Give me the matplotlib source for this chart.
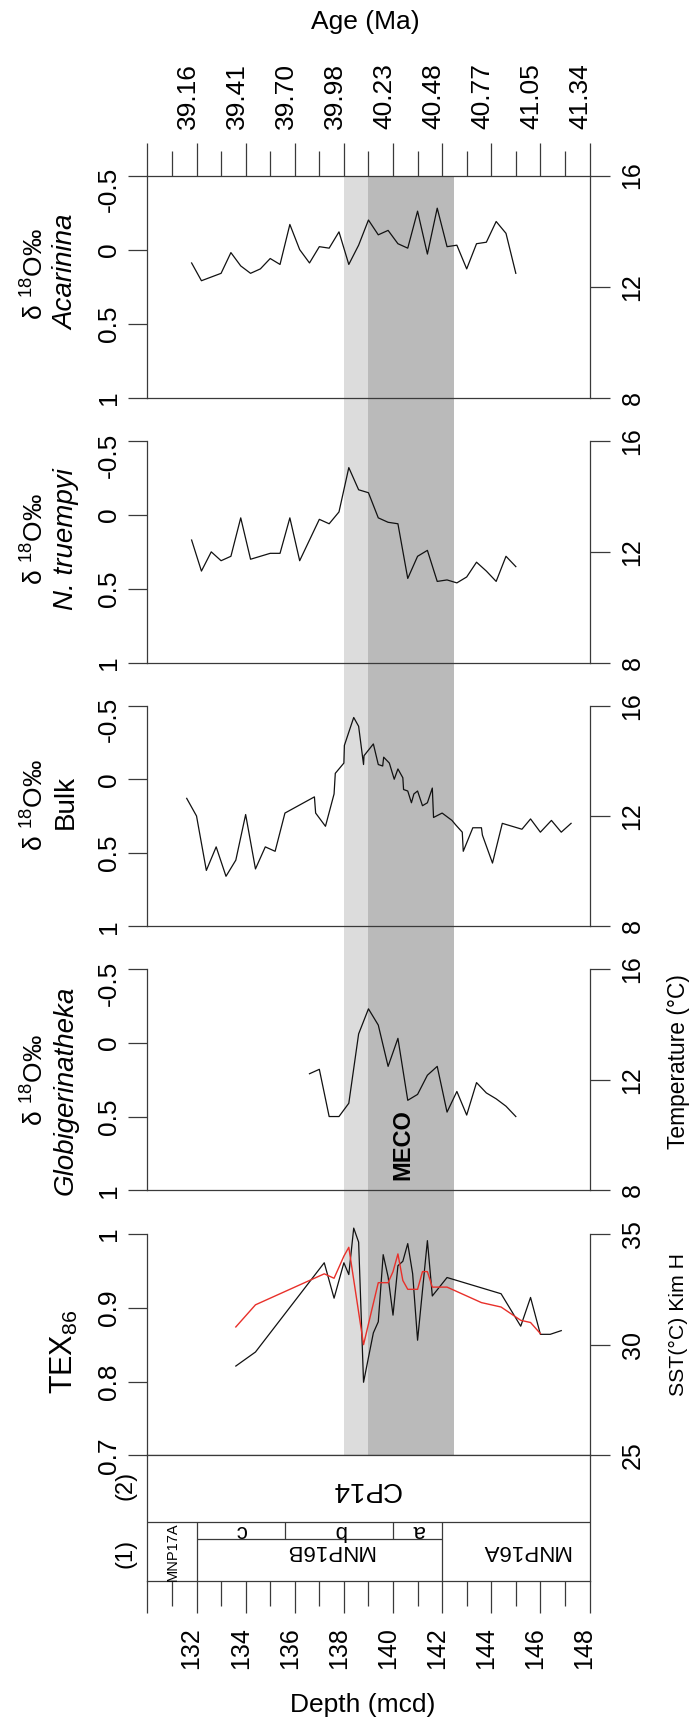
import matplotlib
matplotlib.use("Agg")
import matplotlib.pyplot as plt
import matplotlib.transforms as mtransforms

plt.rcParams['font.family'] = ['Liberation Sans', 'DejaVu Sans']
plt.rcParams['mathtext.fontset'] = 'custom'
plt.rcParams['mathtext.rm'] = 'Liberation Sans'
plt.rcParams['mathtext.it'] = 'Liberation Sans:italic'

# ---- data (depth in mcd) ----
depth_major = [130, 132, 134, 136, 138, 140, 142, 144, 146, 148]
depth_minor = [131, 133, 135, 137, 139, 141, 143, 145, 147]
age_labels = ['', '39.16', '39.41', '39.70', '39.98', '40.23', '40.48', '40.77', '41.05', '41.34']

acar_depth = [131.8, 132.2, 133.0, 133.4, 133.8, 134.2, 134.6, 135.0, 135.4, 135.8, 136.2,
              136.6, 137.0, 137.4, 137.8, 138.2, 138.6, 139.0, 139.4, 139.8, 140.2, 140.6,
              141.0, 141.4, 141.8, 142.2, 142.6, 143.0, 143.4, 143.8, 144.2, 144.6, 145.0]
acar_d18o = [0.09, 0.21, 0.16, 0.02, 0.11, 0.16, 0.13, 0.06, 0.10, -0.17, 0.00,
             0.09, -0.02, -0.01, -0.12, 0.10, -0.03, -0.20, -0.10, -0.13, -0.04, -0.01,
             -0.26, 0.03, -0.28, -0.02, -0.03, 0.13, -0.04, -0.05, -0.19, -0.11, 0.16]

trum_depth = [131.8, 132.2, 132.6, 133.0, 133.4, 133.8, 134.2, 134.6, 135.0, 135.4, 135.8,
              136.2, 136.6, 137.0, 137.4, 137.8, 138.2, 138.6, 139.0, 139.4, 139.8, 140.2,
              140.6, 141.0, 141.4, 141.8, 142.2, 142.6, 143.0, 143.4, 143.8, 144.2, 144.6, 145.0]
trum_d18o = [0.17, 0.38, 0.25, 0.31, 0.28, 0.02, 0.30, 0.28, 0.26, 0.26, 0.02,
             0.31, 0.17, 0.03, 0.06, -0.02, -0.32, -0.17, -0.15, 0.02, 0.05, 0.06,
             0.43, 0.28, 0.24, 0.45, 0.44, 0.46, 0.42, 0.32, 0.38, 0.45, 0.28, 0.35]

bulk_depth = [131.6, 132.0, 132.4, 132.8, 133.2, 133.6, 134.0, 134.4, 134.8, 135.2,
              135.6, 136.8, 136.85, 137.25, 137.6, 137.65, 138.0, 138.02, 138.4, 138.6,
              138.8, 138.82, 139.2, 139.4, 139.58, 139.62, 139.85, 140.05, 140.2, 140.4,
              140.43, 140.6, 140.75, 140.85, 141.0, 141.2, 141.4, 141.6, 141.65, 142.0,
              142.4, 142.55, 142.82, 142.86, 143.25, 143.6, 143.64, 144.05, 144.45, 144.85,
              145.25, 145.6, 146.0, 146.45, 146.85, 147.25]
bulk_d18o = [0.13, 0.25, 0.62, 0.46, 0.66, 0.55, 0.24, 0.61, 0.46, 0.49,
             0.23, 0.12, 0.23, 0.32, 0.10, -0.04, -0.11, -0.23, -0.42, -0.36,
             -0.10, -0.16, -0.24, -0.10, -0.09, -0.15, -0.11, 0.00, -0.07, -0.01,
             0.07, 0.08, 0.16, 0.10, 0.08, 0.18, 0.16, 0.06, 0.26, 0.23,
             0.28, 0.31, 0.36, 0.49, 0.33, 0.33, 0.38, 0.57, 0.30, 0.32,
             0.34, 0.27, 0.36, 0.28, 0.36, 0.30]

glob_depth = [136.6, 137.0, 137.4, 137.8, 138.2, 138.6, 139.0, 139.4, 139.8, 140.2, 140.6,
              141.0, 141.4, 141.8, 142.2, 142.6, 143.0, 143.4, 143.8, 144.2, 144.6, 145.0]
glob_d18o = [0.21, 0.18, 0.50, 0.50, 0.41, -0.06, -0.23, -0.12, 0.16, -0.03, 0.39,
             0.35, 0.22, 0.16, 0.47, 0.33, 0.49, 0.27, 0.34, 0.38, 0.43, 0.50]

tex_depth = [133.6, 134.4, 137.2, 137.6, 138.0, 138.2, 138.4, 138.6, 138.8, 139.2, 139.4,
             139.6, 139.8, 140.0, 140.2, 140.4, 140.6, 140.8, 141.0, 141.4, 141.6, 142.2,
             144.4, 145.2, 145.6, 146.0, 146.4, 146.85]
tex86 = [0.821, 0.840, 0.961, 0.913, 0.961, 0.945, 1.008, 0.989, 0.799, 0.866, 0.881,
         0.972, 0.942, 0.890, 0.957, 0.963, 0.987, 0.946, 0.856, 0.991, 0.916, 0.941,
         0.919, 0.875, 0.914, 0.864, 0.864, 0.869]

sst_depth = [133.6, 134.4, 137.2, 137.6, 138.0, 138.2, 138.8, 139.4, 139.8, 140.0, 140.2,
             140.4, 140.6, 141.0, 141.2, 141.4, 141.6, 142.2, 143.6, 144.4, 145.2, 145.6, 146.0]
sst_kimh = [30.8, 31.8, 33.2, 33.0, 34.0, 34.4, 30.0, 32.8, 32.8, 33.3, 34.1,
            32.9, 32.5, 32.5, 33.3, 33.3, 32.6, 32.6, 31.9, 31.7, 31.1, 31.0, 30.5]

# MECO interval (light = onset, dark = main event)
meco_light = (138.0, 139.0)
meco_dark = (139.0, 142.5)

# biostratigraphy: (name, top, base)
cp_zones = [('CP14', 130, 148)]
mnp_zones = [('MNP17A', 130, 132), ('MNP16B', 132, 142), ('MNP16A', 142, 148)]
mnp16b_sub = [('c', 132, 135.6), ('b', 135.6, 140), ('a', 140, 142)]

# ---- layout (pixels) ----
W, H = 694, 1726
X0, X1 = 147.4, 589.5
AXC = '#3a3a3a'
LIGHT, DARK = '#dcdcdc', '#bababa'

fig = plt.figure(figsize=(W / 100, H / 100), dpi=100)


def px_axes(ytop, ybot):
    return fig.add_axes([X0 / W, 1 - ybot / H, (X1 - X0) / W, (ybot - ytop) / H])


def shift(labels, dx=0, dy=0):
    off = mtransforms.ScaledTranslation(dx / 100, dy / 100, fig.dpi_scale_trans)
    for lab in labels:
        lab.set_transform(lab.get_transform() + off)


def style_spines(ax):
    for s in ax.spines.values():
        s.set_color(AXC)
        s.set_linewidth(0.9)


# MECO shading behind all panels
bg = px_axes(175.6, 1455.3)
bg.set_xlim(130, 148)
bg.axvspan(*meco_light, color=LIGHT, lw=0)
bg.axvspan(*meco_dark, color=DARK, lw=0)
bg.axis('off')

d18o_panels = [
    (acar_depth, acar_d18o, 175.6, 175.6, 397.7),
    (trum_depth, trum_d18o, 397.7, 441.0, 662.7),
    (bulk_depth, bulk_d18o, 662.7, 705.7, 926.3),
    (glob_depth, glob_d18o, 926.3, 969.0, 1190.3),
]

axes = []
for i, (xd, yd, ytop, yup, ybot) in enumerate(d18o_panels):
    ax = px_axes(ytop, ybot)
    ax.patch.set_visible(False)
    frac = (ybot - ytop) / (ybot - yup)
    ax.set_xlim(130, 148)
    ax.set_ylim(1, 1 + (-0.5 - 1) * frac)
    ax.plot(xd, yd, color='#111111', lw=0.9, zorder=3)

    ax.spines['right'].set_visible(False)
    ax.spines['top'].set_visible(i == 0)
    ax.spines['left'].set_bounds(-0.5, 1)
    style_spines(ax)
    ax.set_yticks([-0.5, 0, 0.5, 1], ['-0.5', '0', '0.5', '1'], rotation=90, va='center')
    ax.tick_params(axis='y', direction='out', length=14, width=0.9, color=AXC,
                   labelsize=19, pad=5)
    shift([ax.get_yticklabels()[0]], dy=-14)

    tw = ax.twinx()
    tw.set_ylim(8, 8 + (16 - 8) * frac)
    for k, s in tw.spines.items():
        s.set_visible(k == 'right')
    style_spines(tw)
    tw.spines['right'].set_bounds(8, 16)
    tw.set_yticks([16, 12, 8], ['16', '12', '8'], rotation=90, va='center')
    tw.tick_params(axis='y', direction='out', length=14.4, width=0.9, color=AXC,
                   labelsize=18, pad=8)
    axes.append(ax)

# top age axis
ax1 = axes[0]
ax1.set_xticks(depth_major, age_labels)
ax1.set_xticks(depth_minor, minor=True)
ax1.tick_params(axis='x', which='both', bottom=False, top=True, labelbottom=False,
                labeltop=True, direction='out', color=AXC, width=0.9)
ax1.tick_params(axis='x', which='major', length=23.5, labelsize=19, labelrotation=90, pad=10)
ax1.tick_params(axis='x', which='minor', length=18)
shift(ax1.get_xticklabels(), dx=-9)
for ax in axes[1:]:
    ax.tick_params(axis='x', which='both', bottom=False, labelbottom=False)

axes[3].text(140.4, 0.69, 'MECO', rotation=90, ha='center', va='center',
             fontsize=17, fontweight='bold', zorder=4)

# TEX86 panel
ytop, yup, ybot = 1190.3, 1234.0, 1455.3
frac = (ybot - ytop) / (ybot - yup)
axt = px_axes(ytop, ybot)
axt.patch.set_visible(False)
axt.set_xlim(130, 148)
axt.set_ylim(0.7, 0.7 + 0.3 * frac)
axt.plot(tex_depth, tex86, color='#111111', lw=0.9, zorder=3)
axt.spines['right'].set_visible(False)
axt.spines['top'].set_visible(False)
axt.spines['left'].set_bounds(0.7, 1.0)
style_spines(axt)
axt.set_yticks([0.7, 0.8, 0.9, 1.0], ['0.7', '0.8', '0.9', '1'], rotation=90, va='center')
axt.tick_params(axis='y', direction='out', length=14, width=0.9, color=AXC,
                labelsize=19, pad=5)
axt.tick_params(axis='x', which='both', bottom=False, labelbottom=False)

twt = axt.twinx()
twt.set_ylim(25, 25 + 10 * frac)
twt.plot(sst_depth, sst_kimh, color='#e8302a', lw=1.0, zorder=4)
for k, s in twt.spines.items():
    s.set_visible(k == 'right')
style_spines(twt)
twt.spines['right'].set_bounds(25, 35)
twt.set_yticks([35, 30, 25], ['35', '30', '25'], rotation=90, va='center')
twt.tick_params(axis='y', direction='out', length=14.4, width=0.9, color=AXC,
                labelsize=18, pad=8)

# biostratigraphy strip
axs = px_axes(1455.3, 1580.7)
axs.set_xlim(130, 148)
axs.set_ylim(0, 1)
style_spines(axs)
row_cp, row_sub = 0.4705, 0.3325
axs.axhline(row_cp, color=AXC, lw=0.9)
for name, a, b in cp_zones:
    axs.text((a + b) / 2 - 0.1, 0.73, name, rotation=180, ha='center', va='center', fontsize=20)
for name, a, b in mnp_zones:
    if a > 130:
        axs.vlines(a, 0, row_cp, color=AXC, lw=0.9)
    if name == 'MNP17A':
        axs.text((a + b) / 2 + 0.05, 0.23, name, rotation=90, ha='center', va='center',
                 fontsize=10.5)
    else:
        axs.text((a + b) / 2 + 0.4, 0.24, name, rotation=180, ha='center', va='center',
                 fontsize=16)
axs.hlines(row_sub, mnp16b_sub[0][1], mnp16b_sub[-1][2], color=AXC, lw=0.9)
for name, a, b in mnp16b_sub:
    if a > mnp16b_sub[0][1]:
        axs.vlines(a, row_sub, row_cp, color=AXC, lw=0.9)
    axs.text((a + b) / 2, 0.40, name, rotation=180, ha='center', va='center', fontsize=16)
axs.set_yticks([])
axs.set_xticks(depth_major, [''] + [str(d) for d in depth_major[1:]])
axs.set_xticks(depth_minor, minor=True)
axs.tick_params(axis='x', which='both', direction='out', color=AXC, width=0.9)
axs.tick_params(axis='x', which='major', length=23.3, labelsize=18, labelrotation=90, pad=10)
axs.tick_params(axis='x', which='minor', length=17.7)
shift(axs.get_xticklabels(), dx=-5)


# ---- text labels ----
def ftext(x, y, s, **kw):
    fig.text(x / W, 1 - y / H, s, ha='center', va='center', **kw)


ftext(365, 22, 'Age (Ma)', fontsize=19)
ftext(363, 1705, 'Depth (mcd)', fontsize=19, family=['Liberation Sans Narrow', 'Liberation Sans'])

species = [('Acarinina', 'italic', 274, 272),
           ('N. truempyi', 'italic', 539, 539),
           ('Bulk', 'normal', 805, 802),
           ('Globigerinatheka', 'italic', 1080, 1090)]
for name, style, yd, ys in species:
    ftext(35, yd, 'δ $^{18}$O‰', fontsize=19, rotation=90)
    ftext(66, ys, name, fontsize=20, rotation=90, style=style)
ftext(64, 1352, r'TEX$_{86}$', fontsize=22, rotation=90)
ftext(126, 1485, '(2)', fontsize=17, rotation=90)
ftext(126, 1553, '(1)', fontsize=17, rotation=90)
ftext(679, 1062, 'Temperature (°C)', fontsize=16.4, rotation=90)
ftext(678, 1324, 'SST(°C) Kim H', fontsize=15.3, rotation=90)

fig.savefig('out.png', dpi=100)
